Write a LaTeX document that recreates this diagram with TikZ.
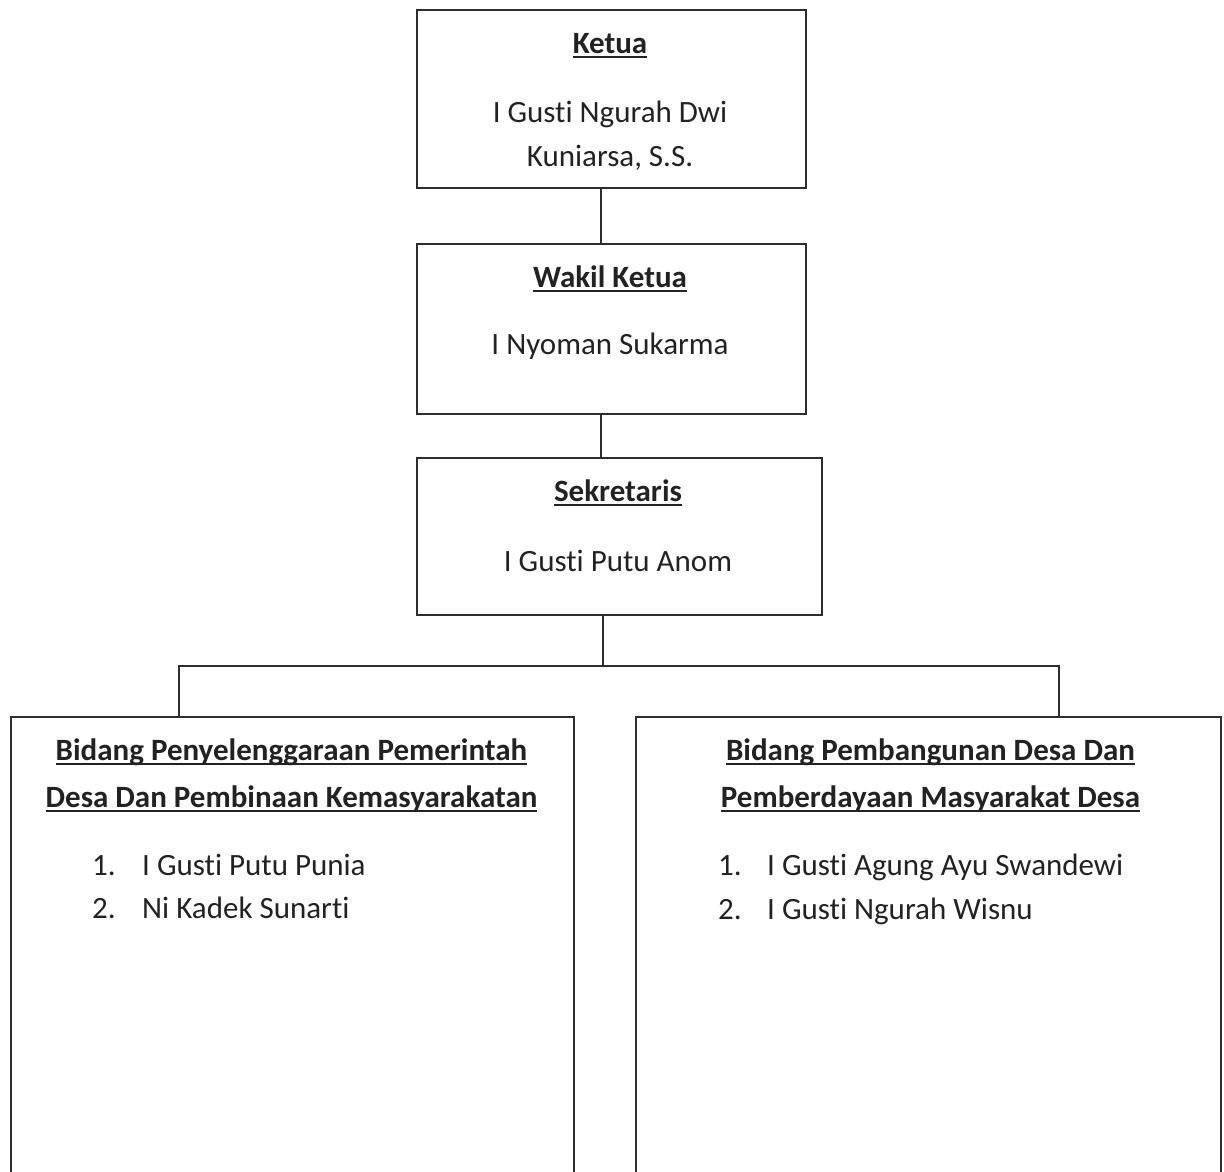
\documentclass[tikz,border=0pt]{standalone}
\usepackage{fontspec}
\setmainfont[Ligatures=NoCommon]{Carlito}
\newcommand\myul[1]{\setbox0\hbox{#1}\rlap{\rule[-4.5pt]{\wd0}{1.7pt}}\box0}
\tikzset{
  box/.style={draw=linec, line width=1.8pt},
  txt/.style={anchor=base, inner sep=0pt, font=\fontsize{31}{37}\selectfont, text=textc},
  ttl/.style={txt, font=\fontsize{31}{37}\selectfont\bfseries},
  lnk/.style={draw=linec, line width=1.6pt},
}
\definecolor{linec}{HTML}{2E2E2E}
\definecolor{textc}{HTML}{222222}
\begin{document}
\begin{tikzpicture}[x=1pt,y=-1pt]
\useasboundingbox (0,0) rectangle (1224,1171);
\clip (0,0) rectangle (1224,1171);
% boxes
\draw[box] (417,10) rectangle (806,188);
\node[inner sep=0, minimum width=389pt, minimum height=178pt] (ketua) at (611.5,99) {};
\draw[box] (417,244) rectangle (806,414);
\node[inner sep=0, minimum width=389pt, minimum height=170pt] (wakil) at (611.5,329) {};
\draw[box] (417,458) rectangle (822,615);
\node[inner sep=0, minimum width=405pt, minimum height=157pt] (sek) at (619.5,536.5) {};
\draw[box] (11,717) rectangle (574,1190);
\node[inner sep=0, minimum width=563pt, minimum height=473pt] (left) at (292.5,953.5) {};
\draw[box] (636,717) rectangle (1221,1190);
\node[inner sep=0, minimum width=585pt, minimum height=473pt] (right) at (928.5,953.5) {};
% texts
\node[ttl] (t1) at (610,53) {\myul{Ketua}};
\node[txt] (t2) at (610,122) {I Gusti Ngurah Dwi};
\node[txt] (t3) at (610,166) {Kuniarsa, S.S.};
\node[ttl] (t4) at (610,287) {\myul{Wakil Ketua}};
\node[txt] (t5) at (610,354) {I Nyoman Sukarma};
\node[ttl] (t6) at (618,501) {\myul{Sekretaris}};
\node[txt] (t7) at (618,571) {I Gusti Putu Anom};
\node[ttl] (t8) at (291.5,760) {\myul{Bidang Penyelenggaraan Pemerintah}};
\node[ttl] (t9) at (291.5,807) {\myul{Desa Dan Pembinaan Kemasyarakatan}};
\node[txt, anchor=base west] (l1n) at (92,875) {1.};
\node[txt, anchor=base west] (l1) at (142,875) {I Gusti Putu Punia};
\node[txt, anchor=base west] (l2n) at (92,918) {2.};
\node[txt, anchor=base west] (l2) at (142,918) {Ni Kadek Sunarti};
\node[ttl] (t10) at (930.5,760) {\myul{Bidang Pembangunan Desa Dan}};
\node[ttl] (t11) at (930.5,807) {\myul{Pemberdayaan Masyarakat Desa}};
\node[txt, anchor=base west] (r1n) at (718,875) {1.};
\node[txt, anchor=base west] (r1) at (767,875) {I Gusti Agung Ayu Swandewi};
\node[txt, anchor=base west] (r2n) at (718,919) {2.};
\node[txt, anchor=base west] (r2) at (767,919) {I Gusti Ngurah Wisnu};
% connectors
\coordinate (cx) at (601,0);
\coordinate (sx) at (603,0);
\coordinate (bus) at (603,666);
\coordinate (bl) at (179,666);
\coordinate (br) at (1059,666);
\draw[lnk] (ketua.south -| cx) -- (wakil.north -| cx);
\draw[lnk] (wakil.south -| cx) -- (sek.north -| cx);
\draw[lnk] (sek.south -| sx) -- (bus);
\draw[lnk] (left.north -| bl) -- (bl) -- (br) -- (right.north -| br);
\end{tikzpicture}
\end{document}
